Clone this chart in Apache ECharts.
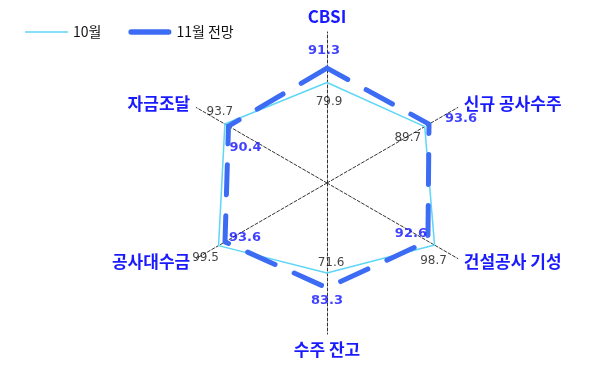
<!DOCTYPE html>
<html>
<head>
<meta charset="utf-8">
<script src="https://cdn.jsdelivr.net/npm/echarts@6/dist/echarts.min.js"></script>
<style>
  html, body { margin: 0; padding: 0; background: #fff; }
  #radarChart { width: 590px; height: 366px; }
</style>
</head>
<body>
<div id="radarChart"></div>
<script>
// 지표 순서: ECharts 레이더는 위에서부터 반시계 방향으로 배치됨
const indicators = ['CBSI', '자금조달', '공사대수금', '수주 잔고', '건설공사 기성', '신규 공사수주'];
const octValues = [79.9, 93.7, 99.5, 71.6, 98.7, 89.7];
const novValues = [91.3, 90.4, 93.6, 83.3, 92.6, 93.6];
const seriesNames = ['10월', '11월 전망'];
const axisMax = 120;

// 값 라벨 위치 (꼭짓점 기준 오프셋)
const octOffsets = [[2, 19], [-5, -12], [-13, 12], [4, -10], [-1, 16], [-17, 11]];
const novOffsets = [[-3, -17], [17, 22], [20, -4], [0, 13], [-17, -8], [32, -5]];

const center = [327, 183];
const radius = 151;
const octColor = '#5fd6f6';
const novColor = '#3c6cf4';

const chart = echarts.init(document.getElementById('radarChart'));

function labelSeries(values, offsets, style) {
    return {
        type: 'scatter',
        coordinateSystem: 'polar',
        silent: true,
        symbolSize: 1,
        itemStyle: { color: 'rgba(0,0,0,0)' },
        label: Object.assign({ show: true, position: 'inside', formatter: p => p.value[0].toFixed(1) }, style),
        data: values.map((v, i) => ({ value: [v, i], label: { offset: offsets[i] } })),
        z: 5
    };
}

chart.setOption({
    animation: false,
    legend: {
        left: 20,
        top: 20,
        itemWidth: 43,
        itemHeight: 14,
        itemGap: 27,
        textStyle: { fontFamily: 'Noto Sans CJK KR', fontSize: 14, color: '#111' },
        data: [
            { name: seriesNames[0], icon: 'path://M0,0H43V1.6H0Z' },
            { name: seriesNames[1], icon: 'path://M2.5,0H37.5A2.5,2.5,0,0,1,37.5,5H2.5A2.5,2.5,0,0,1,2.5,0Z' }
        ]
    },
    radar: {
        center: center,
        radius: radius,
        startAngle: 90,
        shape: 'polygon',
        nameGap: 7,
        splitNumber: 1,
        axisName: {
            color: '#1a1aff',
            fontFamily: 'Noto Sans CJK KR',
            fontWeight: 'bold',
            fontSize: 17
        },
        axisLine: { lineStyle: { color: '#333', width: 1, type: [3, 2] } },
        splitLine: { show: false },
        splitArea: { show: false },
        indicator: indicators.map(name => ({ name: name, min: 0, max: axisMax }))
    },
    polar: { center: center, radius: radius },
    angleAxis: {
        type: 'category',
        data: indicators,
        startAngle: 90,
        clockwise: false,
        boundaryGap: false,
        show: false
    },
    radiusAxis: { min: 0, max: axisMax, show: false },
    series: [
        {
            type: 'radar',
            symbol: 'none',
            silent: true,
            data: [
                {
                    name: seriesNames[0],
                    value: octValues,
                    itemStyle: { color: octColor },
                    lineStyle: { color: octColor, width: 1.5 }
                },
                {
                    name: seriesNames[1],
                    value: novValues,
                    itemStyle: { color: novColor },
                    lineStyle: { color: novColor, width: 5, type: [30, 21], cap: 'round' }
                }
            ]
        },
        labelSeries(octValues, octOffsets, { color: '#111', fontFamily: 'DejaVu Sans', fontSize: 12 }),
        labelSeries(novValues, novOffsets, { color: '#1010ff', fontFamily: 'DejaVu Sans', fontWeight: 'bold', fontSize: 13 })
    ]
});
</script>
</body>
</html>
